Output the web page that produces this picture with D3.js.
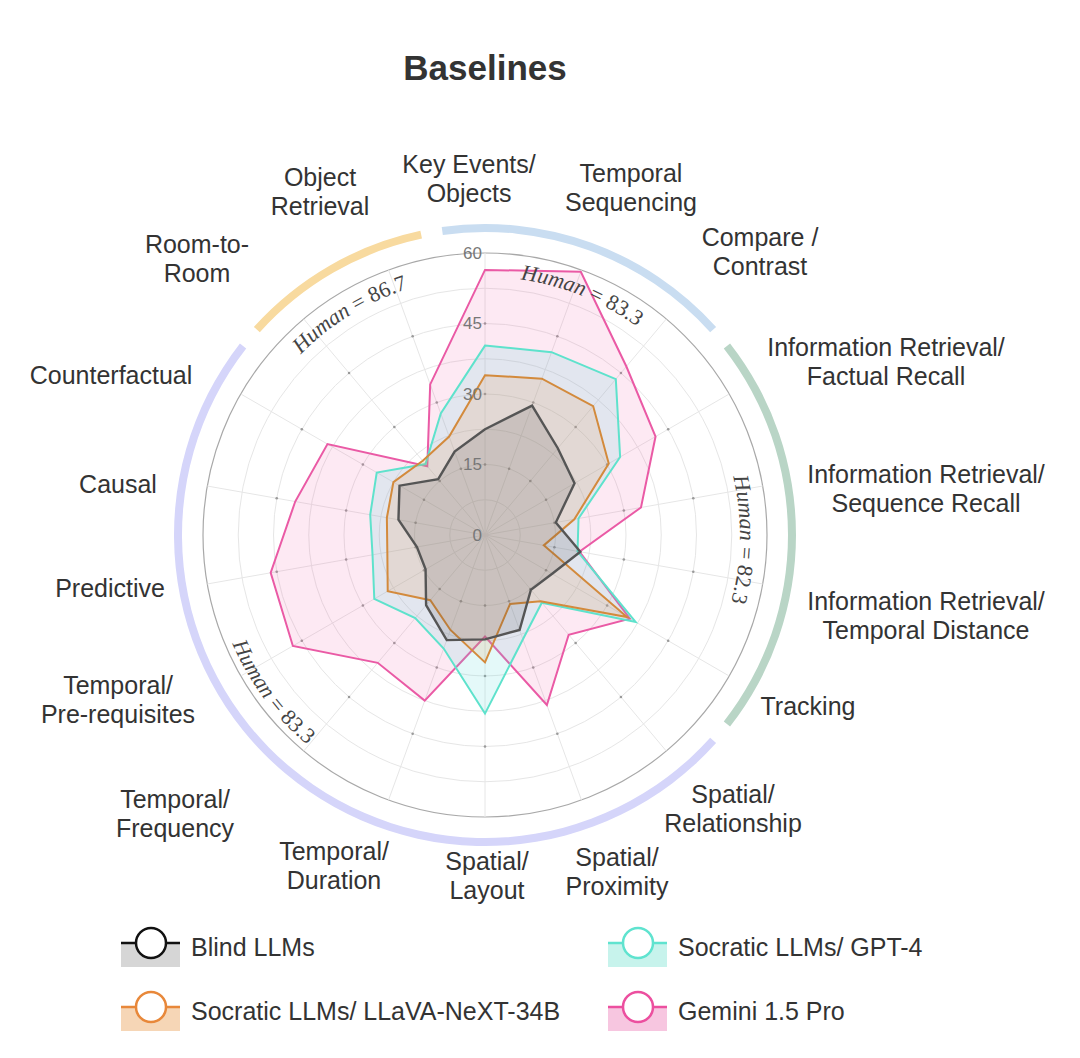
<!DOCTYPE html>
<html>
<head>
<meta charset="utf-8">
<script src="https://cdn.jsdelivr.net/npm/d3@7"></script>
<style>
  html, body { margin: 0; padding: 0; background: #fff; }
  svg { display: block; font-family: "Liberation Sans", Arial, Helvetica, sans-serif; }
</style>
</head>
<body>
<div id="chart"></div>
<script>
// ---- data ----
const categories = [
  "Key Events/\nObjects", "Temporal\nSequencing", "Compare /\nContrast",
  "Information Retrieval/\nFactual Recall", "Information Retrieval/\nSequence Recall",
  "Information Retrieval/\nTemporal Distance", "Tracking", "Spatial/\nRelationship",
  "Spatial/\nProximity", "Spatial/\nLayout", "Temporal/\nDuration", "Temporal/\nFrequency",
  "Temporal/\nPre-requisites", "Predictive", "Causal", "Counterfactual",
  "Room-to-\nRoom", "Object\nRetrieval"
];
const seriesNames = ["Blind LLMs", "Socratic LLMs/ GPT-4", "Socratic LLMs/ LLaVA-NeXT-34B", "Gemini 1.5 Pro"];
const blindValues  = [22.5, 29.3, 24.1, 22.0, 15.3, 20.6, 16.5, 15.2, 21.5, 22.2, 23.8, 19.5, 14.6, 14.7, 18.7, 21.0, 15.5, 18.9];
const gpt4Values   = [40.3, 41.4, 43.3, 33.2, 20.2, 20.0, 37.0, 18.8, 23.6, 38.0, 25.7, 23.1, 27.2, 24.3, 24.8, 26.6, 19.7, 27.5];
const llavaValues  = [34.0, 35.4, 35.8, 30.4, 19.3, 12.7, 34.9, 18.4, 15.6, 27.1, 21.5, 18.1, 23.9, 21.1, 21.2, 22.5, 20.6, 22.3];
const geminiValues = [56.4, 59.6, 46.8, 41.9, 33.7, 20.4, 35.6, 27.7, 38.5, 21.6, 37.5, 35.5, 47.2, 46.3, 41.0, 38.7, 19.1, 34.1];
const tickValues = [0, 15, 30, 45, 60];
// category groups (first index, last index) and human scores
const groupRanges = [[0, 2], [3, 6], [7, 15], [16, 17]];
const humanScores = ["83.3", "82.3", "83.3", "86.7"];

// ---- layout / style ----
const W = 1080, H = 1058;
const cx = 485, cy = 535, R = 282;
const groupColors = ["#c9ddf1", "#b9d5c6", "#d5d5fa", "#f8da9f"];
const humanAngle = [22, 91, 233.5, 328.5];      // degrees, centre of text
const humanRadius = [258, 255, 275, 258];
const humanFlip = [false, false, true, false];  // read along bottom of circle
// label centres relative to chart centre
const labelOffsets = [
  [-16, -356], [146, -347], [275, -283.5], [401, -173], [441, -46], [441, 81],
  [323, 171], [248, 274], [132, 337], [2, 341], [-151, 331], [-310, 279],
  [-367, 165], [-375, 53], [-367, -51], [-374, -160], [-288, -276], [-165, -343]
];
const seriesStyle = [
  {line: "#555555", fill: "rgb(60,60,60)",    fillOp: 0.14, legLine: "#111", legFill: "#d6d6d6"},
  {line: "#5ee2cc", fill: "rgb(90,215,215)",  fillOp: 0.16, legLine: "#5fe3cf", legFill: "#c7f3ec"},
  {line: "#d38a3c", fill: "rgb(225,140,60)",  fillOp: 0.15, legLine: "#e8883a", legFill: "#f6d6b6"},
  {line: "#ea5aa5", fill: "rgb(238,100,170)", fillOp: 0.14, legLine: "#ec4f9f", legFill: "#f7c6e0"}
];
const seriesValues = [blindValues, gpt4Values, llavaValues, geminiValues];

const svg = d3.select("#chart").append("svg").attr("width", W).attr("height", H);

// title
svg.append("text").attr("x", cx).attr("y", 80).attr("text-anchor", "middle")
  .style("font-size", "35px").style("font-weight", "bold").style("fill", "#333")
  .text("Baselines");

const g = svg.append("g").attr("transform", `translate(${cx},${cy})`);

const rScale = d3.scaleLinear().domain([0, 60]).range([0, R]);
const aScale = d3.scaleBand().domain(d3.range(categories.length)).range([0, 2 * Math.PI]).align(0);
const step = aScale.step();
const toRad = d => d * Math.PI / 180;
const pt = (a, rr) => [rr * Math.sin(a), -rr * Math.cos(a)];

// grid rings
g.selectAll(".ring").data(d3.range(7.5, 60, 7.5)).enter().append("circle")
  .attr("r", d => rScale(d)).attr("fill", "none").attr("stroke", "#e6e6e6").attr("stroke-width", 1);
g.append("circle").attr("r", rScale(60)).attr("fill", "none").attr("stroke", "#a8a8a8").attr("stroke-width", 1.2);

// spokes
g.selectAll(".spoke").data(categories).enter().append("line")
  .attr("x1", 0).attr("y1", 0)
  .attr("x2", (d, i) => pt(aScale(i), R)[0])
  .attr("y2", (d, i) => pt(aScale(i), R)[1])
  .attr("stroke", "#e6e6e6").attr("stroke-width", 1);

// small dots on spokes at major ticks
const dotData = [];
categories.forEach((c, i) => tickValues.slice(1, -1).forEach(v => dotData.push([i, v])));
g.selectAll(".dot").data(dotData).enter().append("circle")
  .attr("cx", d => pt(aScale(d[0]), rScale(d[1]))[0])
  .attr("cy", d => pt(aScale(d[0]), rScale(d[1]))[1])
  .attr("r", 1.3).attr("fill", "#9a9a9a");

// series polygons (drawn back to front)
const radar = d3.lineRadial()
  .angle((d, i) => aScale(i))
  .radius(d => rScale(d))
  .curve(d3.curveLinearClosed);

[3, 1, 2, 0].forEach(k => {
  g.append("path").datum(seriesValues[k])
    .attr("d", radar)
    .attr("fill", seriesStyle[k].fill).attr("fill-opacity", seriesStyle[k].fillOp)
    .attr("stroke", seriesStyle[k].line).attr("stroke-width", k === 0 ? 2.4 : 2)
    .attr("stroke-linejoin", "miter");
});

// radial tick labels
g.selectAll(".tick").data(tickValues).enter().append("text")
  .attr("x", -3).attr("y", d => -rScale(d)).attr("dy", "0.35em")
  .attr("text-anchor", "end").style("font-size", "17px").style("fill", "#777")
  .text(d => d);

// group arcs
const pad = toRad(2);
const groupArc = d3.arc().innerRadius(303).outerRadius(311);
g.selectAll(".garc").data(groupRanges).enter().append("path")
  .attr("d", d => groupArc({startAngle: aScale(d[0]) - step / 2 + pad, endAngle: aScale(d[1]) + step / 2 - pad}))
  .attr("fill", (d, i) => groupColors[i]);

// human score texts along the circle
const defs = svg.append("defs");
groupRanges.forEach((gr, i) => {
  const a = toRad(humanAngle[i]), rr = humanRadius[i], span = toRad(45);
  const p0 = pt(humanFlip[i] ? a + span : a - span, rr);
  const p1 = pt(humanFlip[i] ? a - span : a + span, rr);
  defs.append("path").attr("id", "hpath" + i)
    .attr("d", `M${p0[0]},${p0[1]} A${rr},${rr} 0 0 ${humanFlip[i] ? 0 : 1} ${p1[0]},${p1[1]}`);
  const tp = g.append("text")
    .style("font-family", "'Liberation Serif', 'DejaVu Serif', serif")
    .style("font-size", "22px").style("fill", "#444")
    .append("textPath").attr("href", "#hpath" + i).attr("xlink:href", "#hpath" + i)
    .attr("startOffset", "50%").attr("text-anchor", "middle");
  tp.append("tspan").style("font-style", "italic").text("Human");
  tp.append("tspan").text(" = " + humanScores[i]);
});

// category labels
categories.forEach((c, i) => {
  const lines = c.split("\n");
  const t = g.append("text")
    .attr("x", labelOffsets[i][0]).attr("y", labelOffsets[i][1])
    .attr("text-anchor", "middle")
    .style("font-size", "25px").style("fill", "#333");
  lines.forEach((ln, j) => {
    t.append("tspan").attr("x", labelOffsets[i][0])
      .attr("y", labelOffsets[i][1] + (j - (lines.length - 1) / 2) * 29)
      .attr("dy", "0.35em").text(ln);
  });
});

// legend
const legCols = [121, 608], legRows = [943, 1007];
const legPos = [[0, 0], [1, 0], [0, 1], [1, 1]];
seriesNames.forEach((name, k) => {
  const x = legCols[legPos[k][0]], y = legRows[legPos[k][1]];
  const lg = svg.append("g").attr("transform", `translate(${x},${y})`);
  lg.append("rect").attr("x", 0).attr("y", 0).attr("width", 59).attr("height", 24)
    .attr("fill", seriesStyle[k].legFill);
  lg.append("line").attr("x1", 0).attr("x2", 59).attr("y1", 0).attr("y2", 0)
    .attr("stroke", seriesStyle[k].legLine).attr("stroke-width", 2.5);
  lg.append("circle").attr("cx", 30).attr("cy", 0).attr("r", 15)
    .attr("fill", "#fff").attr("stroke", seriesStyle[k].legLine).attr("stroke-width", 2.5);
  lg.append("text").attr("x", 70).attr("y", 4).attr("dy", "0.35em")
    .style("font-size", "25px").style("fill", "#333").text(name);
});
</script>
</body>
</html>
